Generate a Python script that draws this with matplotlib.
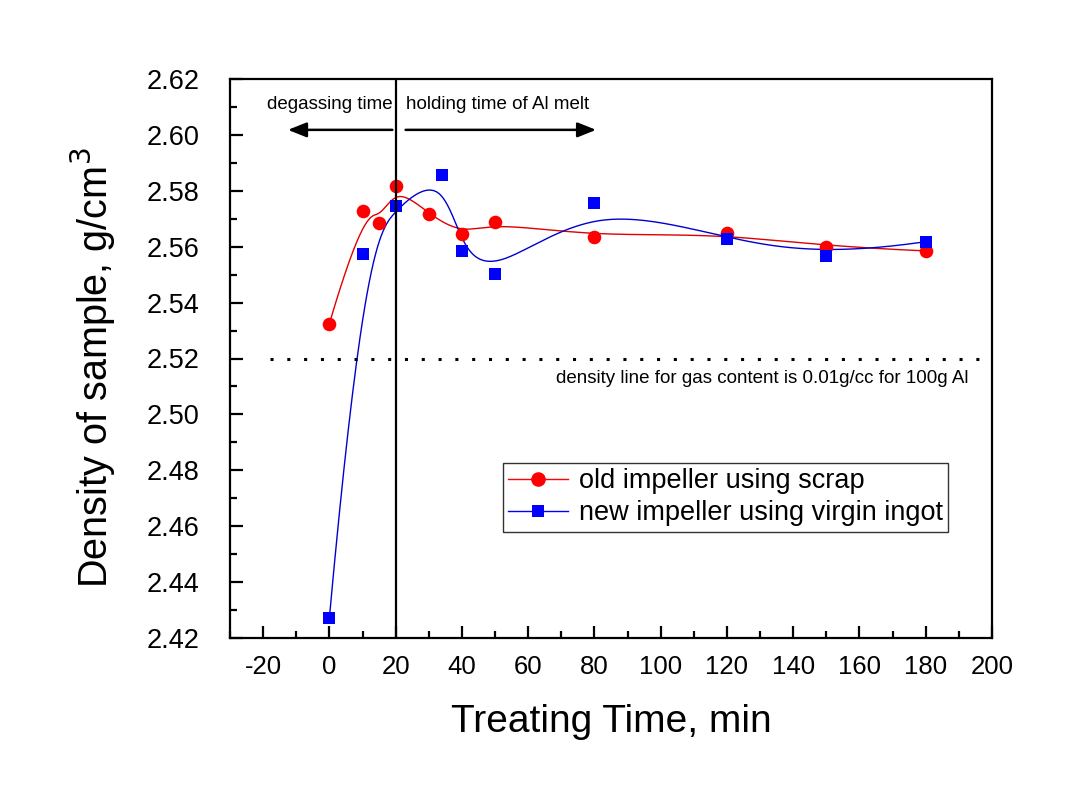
import matplotlib

matplotlib.use("Agg")
import matplotlib.pyplot as plt
import numpy as np
from matplotlib.ticker import MultipleLocator

plt.rcParams["axes.unicode_minus"] = False
plt.rcParams["font.family"] = "Liberation Sans"

old_time = [0, 10, 15, 20, 30, 40, 50, 80, 120, 150, 180]
old_density = [2.5325, 2.5727, 2.5685, 2.5818, 2.5717, 2.5645, 2.5687, 2.5636, 2.5650, 2.5600, 2.5585]

new_time = [0, 10, 20, 34, 40, 50, 80, 120, 150, 180]
new_density = [2.4273, 2.5575, 2.5746, 2.5858, 2.5585, 2.5503, 2.5758, 2.5626, 2.5566, 2.5618]

gas_line_density = 2.52
degassing_end = 20


def bspline_curve(xs, ys, n=400, k=3):
    # clamped B-spline using the data points as control points (Origin "B-Spline" connect)
    ctrl = np.column_stack([xs, ys]).astype(float)
    m = len(ctrl)
    inner = np.linspace(0, 1, m - k + 1)
    knots = np.concatenate([np.zeros(k), inner, np.ones(k)])
    t = np.linspace(0, 1 - 1e-9, n)

    def basis(i, p, u):
        if p == 0:
            return ((knots[i] <= u) & (u < knots[i + 1])).astype(float)
        left = 0.0
        right = 0.0
        d1 = knots[i + p] - knots[i]
        d2 = knots[i + p + 1] - knots[i + 1]
        if d1 > 0:
            left = (u - knots[i]) / d1 * basis(i, p - 1, u)
        if d2 > 0:
            right = (knots[i + p + 1] - u) / d2 * basis(i + 1, p - 1, u)
        return left + right

    weights = np.array([basis(i, k, t) for i in range(m)])
    curve = weights.T @ ctrl
    curve[-1] = ctrl[-1]
    return curve[:, 0], curve[:, 1]


figure = plt.figure(figsize=(10.77, 8), dpi=100)
axis = figure.add_axes([230 / 1077, 162 / 800, 762 / 1077, 559 / 800])

rx, ry = bspline_curve(old_time, old_density)
bx, by = bspline_curve(new_time, new_density)

axis.plot(rx, ry, color="#e00000", linewidth=1.0)
axis.plot(bx, by, color="#0000d0", linewidth=1.0)
axis.plot(old_time, old_density, "o", color="#ff0000", markersize=9.8, markeredgewidth=0)
axis.plot(new_time, new_density, "s", color="#0000ff", markersize=8.4, markeredgewidth=0)

# legend proxies
axis.plot([], [], "-o", color="#ff0000", markersize=10.5, linewidth=1.0, markeredgewidth=0,
          label="old impeller using scrap")
axis.plot([], [], "-s", color="#0000ff", markersize=8.5, linewidth=1.0, markeredgewidth=0,
          label="new impeller using virgin ingot")

axis.axvline(degassing_end, color="black", linewidth=1.6)
axis.plot([-18, 200], [gas_line_density, gas_line_density], color="black",
          linestyle=(0, (1, 4.5)), linewidth=2.2)

arrow = dict(arrowstyle="-|>,head_length=0.7,head_width=0.28", color="black", lw=1.8,
             mutation_scale=16, shrinkA=0, shrinkB=0)
axis.annotate("", xy=(-12.5, 2.6018), xytext=(19, 2.6018), arrowprops=arrow)
axis.annotate("", xy=(80.5, 2.6018), xytext=(23, 2.6018), arrowprops=arrow)
axis.text(19, 2.6107, "degassing time", ha="right", va="center", fontsize=13.5)
axis.text(23, 2.6107, "holding time of Al melt", ha="left", va="center", fontsize=13.5)
axis.text(192.8, 2.5127, "density line for gas content is 0.01g/cc for 100g Al", ha="right",
          va="center", fontsize=13.5)

axis.set_xlim(-30, 200)
axis.set_ylim(2.42, 2.62)
axis.xaxis.set_major_locator(MultipleLocator(20))
axis.xaxis.set_minor_locator(MultipleLocator(10))
axis.yaxis.set_major_locator(MultipleLocator(0.02))
axis.yaxis.set_minor_locator(MultipleLocator(0.01))
axis.yaxis.set_major_formatter(plt.FormatStrFormatter("%.2f"))
axis.tick_params(which="both", direction="in", top=False, right=False, width=1.6)
axis.tick_params(which="major", length=9)
axis.tick_params(which="minor", length=5)
axis.tick_params(axis="x", which="major", labelsize=18.5, pad=12)
axis.tick_params(axis="y", which="major", labelsize=19.5, pad=22)
for spine in axis.spines.values():
    spine.set_linewidth(1.6)

axis.set_xlabel("Treating Time, min", fontsize=28, labelpad=18)
axis.set_ylabel("Density of sample, g/cm$^3$", fontsize=28.5)
axis.yaxis.set_label_coords(-0.147, 0.483)

legend = axis.legend(loc="upper left", bbox_to_anchor=(0.358, 0.313),
                     prop={"size": 19.5}, frameon=True, fancybox=False, edgecolor="black",
                     handlelength=2.2, borderpad=0.2, labelspacing=0.22, handletextpad=0.4,
                     borderaxespad=0)
legend.get_frame().set_linewidth(1.0)

figure.savefig("out.png", dpi=100)
